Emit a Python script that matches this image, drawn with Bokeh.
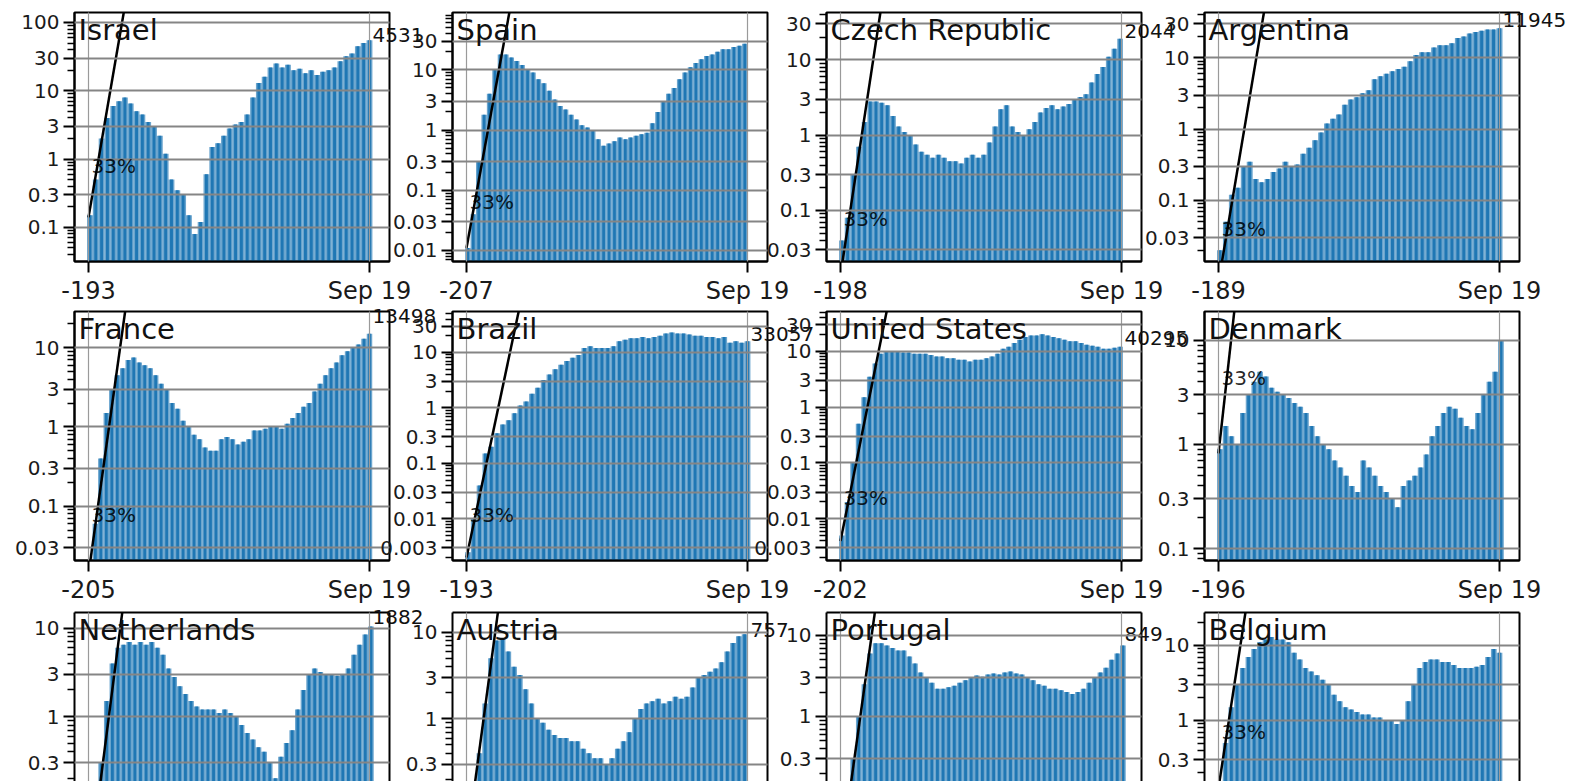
from math import log10
from bokeh.plotting import figure
from bokeh.layouts import row, column
from bokeh.models import (FixedTicker, CustomJSTickFormatter, Label, Range1d,
                          LogAxis, LinearAxis)
from bokeh.embed import file_html
from bokeh.resources import INLINE

# ---------------- data (daily new cases per 100k, read every 4 days) ----------------
countries = ["Israel", "Spain", "Czech Republic", "Argentina",
             "France", "Brazil", "United States", "Denmark",
             "Netherlands", "Austria", "Portugal", "Belgium"]
first_day = [-193, -207, -198, -189, -205, -193, -202, -196, -200, -195, -200, -197]
end_label = "Sep 19"
step_days = 4

israel = [0.15, 0.5, 2, 4, 6, 7, 8, 6.5, 5, 4.5, 3.5, 3, 2.2, 1.2, 0.5, 0.35, 0.3, 0.15, 0.08,
          0.12, 0.6, 1.5, 1.7, 2.2, 2.8, 3.2, 3.5, 4.5, 8, 13, 16, 22, 25, 22, 24, 20, 21, 18,
          20, 17, 19, 20, 22, 27, 32, 35, 45, 50, 55]
spain = [0.011, 0.04, 0.3, 1.8, 4, 10, 18, 18, 16, 14, 12, 10, 9, 7, 6, 4.5, 3.2, 2.5, 2.2,
         1.8, 1.5, 1.2, 1.1, 1.0, 0.7, 0.55, 0.6, 0.65, 0.75, 0.7, 0.75, 0.8, 0.85, 0.9, 1.3,
         2, 3, 4, 5, 7, 9, 11, 13, 15, 17, 18, 20, 22, 22, 24, 25, 27]
czech = [0.04, 0.08, 0.3, 0.7, 1.5, 2.8, 2.8, 2.7, 2.5, 1.8, 1.3, 1.1, 1.0, 0.75, 0.6, 0.55,
         0.5, 0.55, 0.5, 0.45, 0.45, 0.42, 0.5, 0.55, 0.5, 0.55, 0.8, 1.3, 2.2, 2.5, 1.3, 1.1,
         1.0, 1.2, 1.5, 2, 2.3, 2.5, 2.2, 2.4, 2.6, 3, 3.2, 3.5, 5, 6.5, 8, 11, 14, 19]
argentina = [0.02, 0.05, 0.12, 0.15, 0.3, 0.35, 0.2, 0.18, 0.2, 0.25, 0.28, 0.35, 0.3, 0.32,
             0.45, 0.55, 0.7, 0.9, 1.2, 1.4, 1.6, 2.2, 2.6, 2.8, 3.2, 3.5, 5, 5.5, 6, 6.5, 7,
             7.5, 9, 11, 12, 12, 14, 15, 15, 16, 19, 20, 22, 23, 24, 25, 25, 26]
france = [0.02, 0.06, 0.4, 1.5, 3, 4.5, 5.5, 7, 7.5, 6.5, 6, 5.5, 4.5, 3.5, 3, 2, 1.7, 1.2, 1,
          0.8, 0.7, 0.55, 0.5, 0.5, 0.7, 0.75, 0.7, 0.6, 0.65, 0.7, 0.9, 0.9, 0.95, 1.0, 1.0,
          0.95, 1.1, 1.3, 1.5, 1.8, 2, 2.8, 3.5, 4.5, 5.5, 6.5, 8, 9, 10, 11, 13, 15]
brazil = [0.0025, 0.01, 0.04, 0.15, 0.2, 0.35, 0.5, 0.6, 0.8, 1.1, 1.3, 1.8, 2.3, 3.2, 4, 5,
          6, 7, 8, 9, 12, 13, 12, 12, 12, 13, 16, 17, 18, 18, 19, 18, 19, 20, 22, 23, 22, 22,
          21, 20, 20, 19, 19, 18, 19, 15, 16, 15, 16]
united_states = [0.005, 0.02, 0.1, 0.5, 1.5, 3.5, 6, 9, 10, 10, 10, 9.5, 9.5, 9, 9, 9, 8.5, 8,
                 8, 7.5, 7.5, 7, 7, 6.5, 7, 7, 7.5, 8, 9, 11, 12, 14, 16, 18, 19, 19, 20, 19,
                 18, 17, 16, 15, 15, 14, 13, 12.5, 12, 11, 11, 11.5, 12]
denmark = [0.9, 1.5, 1.2, 1.0, 2, 3, 4, 5, 4.5, 3.5, 3.2, 3, 2.8, 2.5, 2.3, 2.0, 1.5, 1.2, 1.0,
           0.9, 0.7, 0.6, 0.5, 0.4, 0.35, 0.7, 0.6, 0.5, 0.4, 0.35, 0.3, 0.25, 0.4, 0.45, 0.5,
           0.6, 0.8, 1.2, 1.5, 2, 2.3, 2.2, 1.8, 1.5, 1.4, 2, 3, 4, 5, 10]
netherlands = [0.01, 0.05, 0.3, 1.5, 4, 6, 6.5, 7, 6.5, 7, 6.5, 7, 6, 5, 3.5, 2.8, 2.2, 1.8,
               1.5, 1.3, 1.2, 1.2, 1.2, 1.1, 1.2, 1.1, 1.0, 0.8, 0.65, 0.55, 0.45, 0.4, 0.3,
               0.2, 0.35, 0.5, 0.7, 1.2, 2, 3, 3.5, 3.2, 3, 3, 2.9, 3, 3.5, 5, 6.5, 8.5, 10.5]
austria = [0.03, 0.1, 0.4, 1.5, 5, 8, 8.5, 6, 4, 3.2, 2.2, 1.5, 1.0, 0.9, 0.75, 0.65, 0.6, 0.6,
           0.55, 0.55, 0.45, 0.4, 0.35, 0.35, 0.3, 0.35, 0.45, 0.55, 0.7, 1.0, 1.3, 1.5, 1.6,
           1.7, 1.5, 1.6, 1.8, 1.7, 1.8, 2.3, 3, 3.2, 3.5, 3.8, 4.5, 6, 7.5, 9, 9.5]
portugal = [0.02, 0.08, 0.3, 1.0, 2.5, 6, 8, 8, 7.5, 7, 6.5, 6.5, 5.5, 4.5, 3.5, 3, 2.6, 2.2,
            2.2, 2.3, 2.4, 2.6, 2.8, 3, 3.2, 3.1, 3.3, 3.4, 3.3, 3.5, 3.6, 3.4, 3.3, 3.0, 2.8,
            2.5, 2.4, 2.2, 2.2, 2.1, 2.0, 1.9, 2.0, 2.2, 2.6, 3, 3.5, 4, 5, 6, 7.5]
belgium = [0.13, 0.5, 1.5, 3, 5, 7, 9, 11, 12, 13, 12, 12, 11, 8, 6.5, 5, 4.5, 4, 3.5, 3, 2.2,
           1.8, 1.5, 1.4, 1.3, 1.2, 1.2, 1.1, 1.1, 1.0, 1.0, 0.9, 1.0, 1.8, 3, 5, 6, 6.5, 6.5,
           6, 6, 5.5, 5, 5, 5, 5.2, 5.5, 7, 9, 8]
series = [israel, spain, czech, argentina, france, brazil, united_states, denmark,
          netherlands, austria, portugal, belgium]

# axis limits (bottom row is cut by the window edge)
y_low = [0.0316, 0.00656, 0.021, 0.0139, 0.0207, 0.00177, 0.00179, 0.0769,
         0.1836, 0.1888, 0.1576, 0.1537]
y_high = [140, 89.5, 42.5, 43.3, 28.6, 54.8, 51.3, 18.9, 15.1, 16.9, 19.2, 27.5]

# 33 % growth reference line
growth = 1.33
line_start = [0.14, 0.011, 0.014, 0.0071, 0.014, 0.002, 0.004, 0.82,
              0.016, 0.034, 0.018, 0.126]

# latest daily count labels
last_text = ["4531", "", "2044", "11945", "13498", "33057", "40295", "",
             "1882", "757", "849", ""]
last_value = [49.3, None, 19.1, 26.5, 20.1, 15.5, 12.2, None, 10.8, 8.5, 8.2, None]

major_ticks = [0.001, 0.003, 0.01, 0.03, 0.1, 0.3, 1, 3, 10, 30, 100]
minor_ticks = [m * 10.0 ** k for k in range(-4, 3) for m in (2, 4, 5, 6, 7, 8, 9)]

# ---------------- layout ----------------
FONT = "DejaVu Sans"
BLUE = "#1f77b4"
BL, FW = 80, 315
BR = [80, 80, 80, 60]
ML = [-6, -97, -101, -97]
MT = [-8, -20, -18]
BT = 20
FH = [249, 249, 169]
BB = [50, 50, 0]
rate_text = f"{round((growth - 1) * 100)}%"


def style_axis(ax, size, minor=True):
    ax.axis_line_color = "black"
    ax.axis_line_width = 2
    ax.major_tick_line_color = "black"
    ax.major_tick_line_width = 2
    ax.major_tick_out = 11
    ax.major_tick_in = 0
    if minor:
        ax.minor_tick_line_color = "black"
        ax.minor_tick_line_width = 1.5
        ax.minor_tick_out = 7
        ax.minor_tick_in = 0
    else:
        ax.minor_tick_line_color = None
    ax.major_label_text_font = FONT
    ax.major_label_text_font_size = size
    ax.major_label_text_color = "#1a1a1a"
    ax.major_label_standoff = 4


def panel(i):
    r, c = divmod(i, 4)
    last_row = r == 2
    x0 = first_day[i]
    lo, hi = y_low[i], y_high[i]
    span = -x0
    xlo = x0 - 14 * span / 281
    xhi = 20 * span / 281
    p = figure(frame_width=FW, frame_height=FH[r],
               x_range=Range1d(xlo, xhi), y_range=Range1d(lo, hi),
               y_axis_type="log", x_axis_location=None if last_row else "below",
               output_backend="svg", toolbar_location=None,
               min_border_left=BL, min_border_right=BR[c], min_border_top=BT,
               min_border_bottom=BB[r],
               border_fill_color=None, background_fill_color="white",
               outline_line_color=None if last_row else "black", outline_line_width=2,
               margin=(MT[r], 0, 0, ML[c]), styles={"flex-shrink": "0"})

    vals = series[i]
    xs = [x0 + step_days * k + 1 for k in range(len(vals))]
    base = lo / 100
    p.vbar(x=xs, width=4.0, top=vals, bottom=base, fill_color=BLUE, fill_alpha=0.66,
           line_color=None)
    p.vbar(x=xs, width=2.0, top=vals, bottom=base, fill_color=BLUE, line_color=None)

    p.line([x0, x0 + 45], [line_start[i], line_start[i] * growth ** 45],
           line_color="black", line_width=2.5)

    yticks = [t for t in major_ticks if lo <= t <= hi]
    yminor = [t for t in minor_ticks if lo <= t <= hi]
    yax = p.yaxis[0]
    yax.ticker = FixedTicker(ticks=yticks, minor_ticks=yminor)
    yax.formatter = CustomJSTickFormatter(code="return String(tick);")
    style_axis(yax, "20px")
    p.ygrid.ticker = FixedTicker(ticks=yticks)
    p.ygrid.grid_line_color = "#858585"
    p.ygrid.grid_line_width = 2
    p.ygrid.level = "guide"

    xt = FixedTicker(ticks=[x0, 0])
    if not last_row:
        xax = p.xaxis[0]
        xax.ticker = xt
        xax.formatter = CustomJSTickFormatter(args=dict(end=end_label),
                                              code="return tick == 0 ? end : String(tick);")
        style_axis(xax, "24px", minor=False)
    p.xgrid.ticker = xt
    p.xgrid.grid_line_color = "#9a9a9a"
    p.xgrid.grid_line_width = 1.2
    p.xgrid.level = "guide"

    # right side: spine for the cut bottom row, and the latest-count label
    if last_text[i] or last_row:
        if last_text[i]:
            ppd = FH[r] / log10(hi / lo)
            tick = last_value[i] * 10 ** (8 / ppd)
            rt = FixedTicker(ticks=[tick])
        else:
            rt = FixedTicker(ticks=[])
        rax = LogAxis(ticker=rt,
                      formatter=CustomJSTickFormatter(args=dict(txt=last_text[i]),
                                                      code="return txt;"),
                      axis_line_color="black" if last_row else None, axis_line_width=2,
                      major_tick_line_color=None, minor_tick_line_color=None,
                      major_tick_out=0, major_tick_in=0,
                      major_label_standoff=-17, major_label_text_font=FONT,
                      major_label_text_font_size="20px", major_label_text_color="#111111")
        p.add_layout(rax, "right")
    if last_row:
        tax = LinearAxis(ticker=FixedTicker(ticks=[]), axis_line_color="black",
                         axis_line_width=2, major_tick_line_color=None,
                         minor_tick_line_color=None, major_label_text_font_size="0px")
        p.add_layout(tax, "above")

    p.add_layout(Label(x=xlo, y=hi, x_offset=4, y_offset=0, text=countries[i],
                       text_baseline="top", text_font=FONT, text_font_size="29px",
                       text_color="#111111"))
    ty = line_start[i] * 4.6
    if lo < ty < hi:
        p.add_layout(Label(x=x0, y=ty, x_offset=3, y_offset=6, text=rate_text,
                           text_baseline="alphabetic", text_font=FONT,
                           text_font_size="20px", text_color="black", text_alpha=0.85))
    return p


panels = [panel(i) for i in range(12)]
layout = column(row(*panels[0:4]), row(*panels[4:8]), row(*panels[8:12]))

open("out.html", "w").write(file_html(layout, INLINE))
